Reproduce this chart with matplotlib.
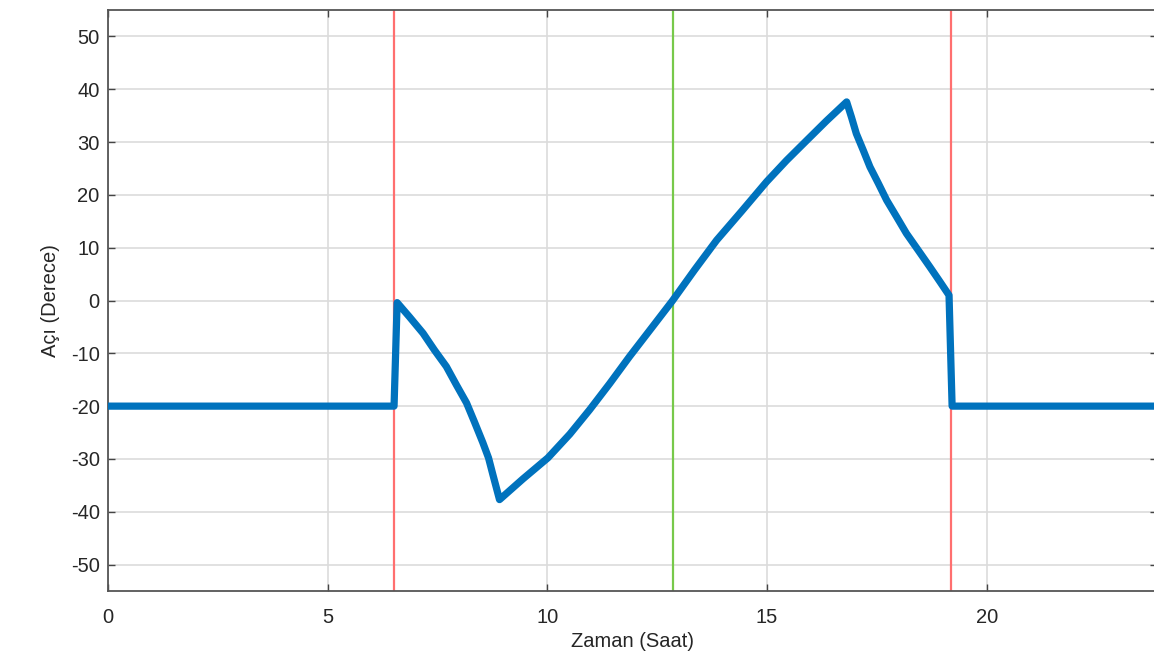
import numpy as np
import matplotlib
matplotlib.use("Agg")
import matplotlib.pyplot as plt

# tracker angle over the day
hours = [0.0, 6.51, 6.58, 6.86, 7.17, 7.43, 7.70, 7.93, 8.16, 8.34, 8.53,
         8.66, 8.76, 8.91,
         9.44, 10.01, 10.51, 10.96, 11.42, 11.87, 12.37, 12.85, 13.35,
         13.85, 14.42, 14.99, 15.44, 15.90, 16.35, 16.81,
         16.92, 17.03, 17.19, 17.34, 17.53, 17.72, 17.95, 18.17, 18.44,
         18.70, 18.93, 19.14, 19.21, 24.0]
angle = [-20.0, -20.0, -0.4, -3.1, -6.2, -9.4, -12.5, -16.0, -19.4, -23.0, -26.9,
         -29.8, -33.0, -37.7,
         -33.8, -29.8, -25.3, -20.7, -15.7, -10.6, -5.2, 0.0, 5.8,
         11.4, 16.9, 22.5, 26.5, 30.3, 34.0, 37.6,
         34.7, 31.6, 28.4, 25.3, 22.2, 19.0, 15.8, 12.7, 9.5,
         6.4, 3.6, 1.0, -20.0, -20.0]

sunrise = 6.52
solar_noon = 12.85
sunset = 19.18

xticks = [0, 5, 10, 15, 20]
yticks = list(range(-50, 51, 10))

plt.rcParams['font.family'] = ['Liberation Sans', 'DejaVu Sans']
plt.rcParams['axes.unicode_minus'] = False

fig = plt.figure(figsize=(11.54, 6.63), dpi=100)
ax = fig.add_axes([108 / 1154, 1 - 591 / 663, (1157 - 108) / 1154, (591 - 10) / 663])

ax.axvline(sunrise, color='#ff6f6f', lw=1.6, zorder=2)
ax.axvline(solar_noon, color='#77c94a', lw=1.6, zorder=2)
ax.axvline(sunset, color='#ff6f6f', lw=1.6, zorder=2)
ax.plot(hours, angle, color='#0072BD', lw=5.2, solid_joinstyle='round',
        solid_capstyle='round', zorder=3)

ax.set_xlim(0, (1157 - 108.5) / 43.92)
ax.set_ylim(-55, 55)
ax.set_xticks(xticks)
ax.set_yticks(yticks)
ax.grid(True, color='#dcdcdc', lw=1.2)
ax.set_axisbelow(True)

ax.tick_params(direction='in', length=5, width=1, colors='#444444',
               labelcolor='#262626', labelsize=14.5, top=True, right=True)
ax.tick_params(axis='x', pad=12)
ax.tick_params(axis='y', pad=6)
for s in ax.spines.values():
    s.set_color('#555555')
    s.set_linewidth(1.3)

ax.set_xlabel('Zaman (Saat)', fontsize=14.5, color='#262626', labelpad=4)
ax.set_ylabel('Açı (Derece)', fontsize=14.5, color='#262626', labelpad=8)

fig.savefig('out.png', dpi=100)
